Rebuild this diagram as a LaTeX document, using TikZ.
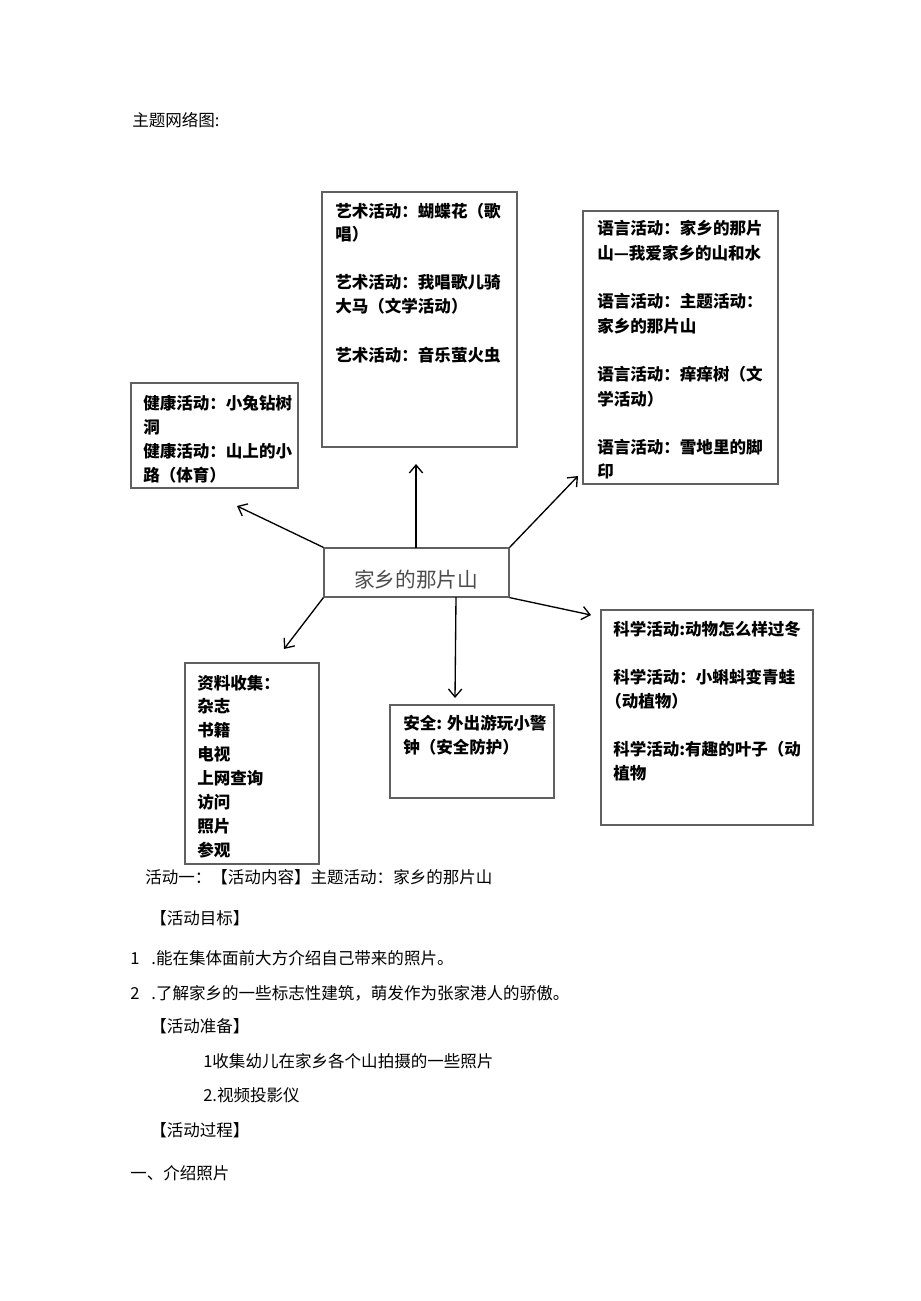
\documentclass[tikz,border=0pt]{standalone}
\usepackage{fontspec}
\setmainfont{Noto Sans CJK SC}
\usetikzlibrary{arrows.meta,fit}
\begin{document}
\begin{tikzpicture}[x=0.75pt,y=-0.75pt,
  box/.style={draw=gray!75!black, line width=0.9pt, inner sep=0pt},
  bt/.style={anchor=west, inner sep=0pt, font=\fontsize{12.4pt}{14pt}\selectfont\bfseries},
  body/.style={anchor=west, inner sep=0pt, font=\fontsize{12.4pt}{14pt}\selectfont},
  arr/.style={-{Straight Barb[length=6pt,width=10pt]}, line width=1pt}]
\useasboundingbox (0,0) rectangle (920,1301);

% title
\node[body] (title) at (132,120) {主题网络图:};

% boxes
\coordinate (a1) at (322,192); \coordinate (a2) at (517,447);
\node[box, fit=(a1)(a2)] (art) {};
\coordinate (h1) at (131,383); \coordinate (h2) at (298,488);
\node[box, fit=(h1)(h2)] (health) {};
\coordinate (l1) at (583,211); \coordinate (l2) at (778,484);
\node[box, fit=(l1)(l2)] (lang) {};
\coordinate (c1) at (324,548); \coordinate (c2) at (509,597);
\node[box, fit=(c1)(c2)] (center) {};
\coordinate (k1) at (185,663); \coordinate (k2) at (319,864);
\node[box, fit=(k1)(k2)] (collect) {};
\coordinate (s1) at (390,705); \coordinate (s2) at (554,798);
\node[box, fit=(s1)(s2)] (safety) {};
\coordinate (n1) at (601,610); \coordinate (n2) at (813,825);
\node[box, fit=(n1)(n2)] (science) {};

% center text
\node[anchor=center, inner sep=0pt, text=gray!60!black, font=\fontsize{15.5pt}{17pt}\selectfont] (ctext) at (416,580) {家乡的那片山};

% art texts
\node[bt] (a-t1) at (335,211) {艺术活动：蝴蝶花（歌};
\node[bt] (a-t2) at (335,234) {唱）};
\node[bt] (a-t3) at (335,282) {艺术活动：我唱歌儿骑};
\node[bt] (a-t4) at (335,306) {大马（文学活动）};
\node[bt] (a-t5) at (335,355) {艺术活动：音乐萤火虫};

% health texts
\node[bt] (h-t1) at (143,403) {健康活动：小兔钻树};
\node[bt] (h-t2) at (143,427) {洞};
\node[bt] (h-t3) at (143,451) {健康活动：山上的小};
\node[bt] (h-t4) at (143,475) {路（体育）};

% language texts
\node[bt] (l-t1) at (597,228) {语言活动：家乡的那片};
\node[bt] (l-t2) at (597,253) {山—我爱家乡的山和水};
\node[bt] (l-t3) at (597,301) {语言活动：主题活动：};
\node[bt] (l-t4) at (597,326) {家乡的那片山};
\node[bt] (l-t5) at (597,374) {语言活动：痒痒树（文};
\node[bt] (l-t6) at (597,399) {学活动）};
\node[bt] (l-t7) at (597,447) {语言活动：雪地里的脚};
\node[bt] (l-t8) at (597,471) {印};

% collect texts
\node[bt] (k-t1) at (197,683) {资料收集：};
\node[bt] (k-t2) at (197,706) {杂志};
\node[bt] (k-t3) at (197,730) {书籍};
\node[bt] (k-t4) at (197,754) {电视};
\node[bt] (k-t5) at (197,778) {上网查询};
\node[bt] (k-t6) at (197,802) {访问};
\node[bt] (k-t7) at (197,826) {照片};
\node[bt] (k-t8) at (197,850) {参观};

% safety texts
\node[bt] (s-t1) at (403,723) {安全: 外出游玩小警};
\node[bt] (s-t2) at (403,747) {钟（安全防护）};

% science texts
\node[bt] (n-t1) at (613,629) {科学活动:动物怎么样过冬};
\node[bt] (n-t2) at (613,677) {科学活动：小蝌蚪变青蛙};
\node[bt] (n-t3) at (605,701) {（动植物）};
\node[bt] (n-t4) at (613,749) {科学活动:有趣的叶子（动};
\node[bt] (n-t5) at (613,773) {植物};

% arrow tips
\coordinate (tArt) at (416,464);
\coordinate (tHealth) at (237,506);
\coordinate (tLang) at (578,476);
\coordinate (tCollect) at (284,649);
\coordinate (tSafety) at (455,698);
\coordinate (tSci) at (591,615);
\coordinate (oArt) at (416,548);
\coordinate (oSafety) at (456,597);

\draw[arr] (oArt) -- (tArt);
\draw[arr] (center.north west) -- (tHealth);
\draw[arr] (center.north east) -- (tLang);
\draw[arr] (center.south west) -- (tCollect);
\draw[arr] (oSafety) -- (tSafety);
\draw[arr] (center.south east) -- (tSci);

% body text
\node[body] (p1) at (145,877) {活动一：【活动内容】主题活动：家乡的那片山};
\node[body] (p2) at (150,918) {【活动目标】};
\node[body] (p3) at (130,958) {1\hspace{9pt}.能在集体面前大方介绍自己带来的照片。};
\node[body] (p4) at (130,993) {2\hspace{9pt}.了解家乡的一些标志性建筑，萌发作为张家港人的骄傲。};
\node[body] (p5) at (150,1026) {【活动准备】};
\node[body] (p6) at (203,1061) {1收集幼儿在家乡各个山拍摄的一些照片};
\node[body] (p7) at (203,1095) {2.视频投影仪};
\node[body] (p8) at (150,1130) {【活动过程】};
\node[body] (p9) at (130,1173) {一、介绍照片};
\end{tikzpicture}
\end{document}
